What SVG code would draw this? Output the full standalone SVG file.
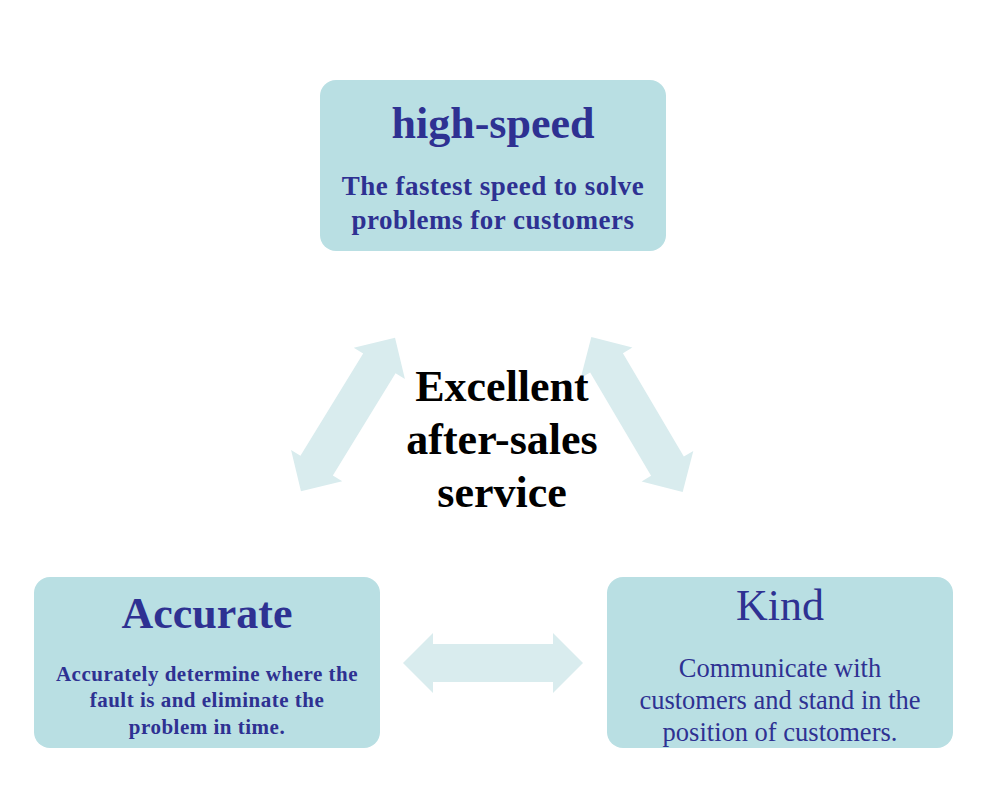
<svg xmlns="http://www.w3.org/2000/svg" width="1000" height="811" viewBox="0 0 1000 811">
<style>
.box{fill:#b9dfe3}
.arr{fill:#d9ecee}
.t{font-family:"Liberation Serif","Times New Roman",serif;fill:#2e3192;text-anchor:middle}
.b{font-weight:bold}
.title{font-size:44px}
.sub{font-size:27px;letter-spacing:0.5px}
.subs{font-size:21px;letter-spacing:0.5px}
.subr{font-size:26.5px}
.center{font-family:"Liberation Serif","Times New Roman",serif;font-weight:bold;font-size:44px;fill:#000;text-anchor:middle}
</style>
<defs>
<polygon id="dbl" points="-90,0 -60,-30 -60,-19 60,-19 60,-30 90,0 60,30 60,19 -60,19 -60,30"/>
</defs>
<rect width="1000" height="811" fill="#fff"/>
<g id="connectors">
<use href="#dbl" class="arr" transform="translate(348,414.5) rotate(-58.5)"/>
<use href="#dbl" class="arr" transform="translate(637,414.5) rotate(59.5)"/>
<use href="#dbl" class="arr" transform="translate(493,663)"/>
</g>
<g id="center">
<text class="center" x="502" y="401">Excellent</text>
<text class="center" x="502" y="454">after-sales</text>
<text class="center" x="502" y="507">service</text>
</g>
<g id="high-speed">
<rect class="box" x="320" y="80" width="346" height="171" rx="16"/>
<text class="t b title" x="493" y="138">high-speed</text>
<text class="t b sub" x="493" y="195">The fastest speed to solve</text>
<text class="t b sub" x="493" y="229">problems for customers</text>
</g>
<g id="accurate">
<rect class="box" x="34" y="577" width="346" height="171" rx="16"/>
<text class="t b title" x="207" y="628">Accurate</text>
<text class="t b subs" x="207" y="681">Accurately determine where the</text>
<text class="t b subs" x="207" y="707">fault is and eliminate the</text>
<text class="t b subs" x="207" y="734">problem in time.</text>
</g>
<g id="kind">
<rect class="box" x="607" y="577" width="346" height="171" rx="16"/>
<text class="t title" x="780" y="620">Kind</text>
<text class="t subr" x="780" y="677">Communicate with</text>
<text class="t subr" x="780" y="709">customers and stand in the</text>
<text class="t subr" x="780" y="741">position of customers.</text>
</g>
</svg>
